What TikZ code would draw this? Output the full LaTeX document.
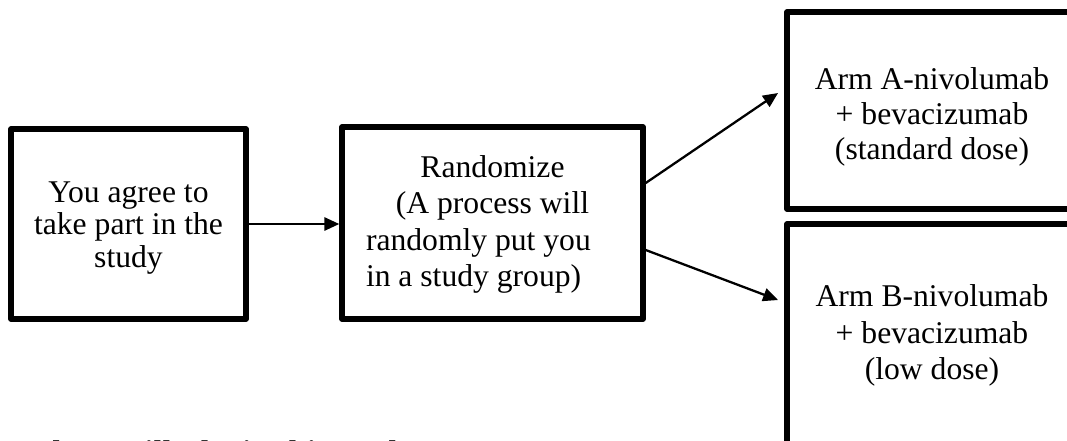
\documentclass[tikz,border=0pt]{standalone}
\usepackage{fontspec}
\setmainfont{Liberation Serif}
\usetikzlibrary{arrows.meta}
\tikzset{
  boxnode/.style={draw=black, line width=3.1pt, line join=round, rectangle, inner sep=0pt},
  boxtext/.style={align=center, inner sep=0pt},
  flowarrow/.style={draw=black, line width=1.3pt, -{Triangle[length=8.5pt, width=7.5pt]}},
}
\begin{document}
\begin{tikzpicture}[x=0.02cm, y=-0.02cm]
\useasboundingbox (0,0) rectangle (1067,440);
\clip (0,0) rectangle (1067,440);
% boxes
\node[boxnode, minimum width=4.70cm, minimum height=3.80cm] (b1) at (128.5,224) {};
\node[boxnode, minimum width=6.02cm, minimum height=3.84cm] (b2) at (492.5,223) {};
\node[boxnode, minimum width=5.80cm, minimum height=3.94cm] (b3) at (932,110.5) {};
\node[boxnode, minimum width=5.80cm, minimum height=4.48cm] (b4) at (932,336) {};
% texts
\node[boxtext, font=\fontsize{18pt}{18.7pt}\selectfont] (t1) at (128.5,228)
  {You agree to\\take part in the\\study};
\node[boxtext, font=\fontsize{18pt}{20.8pt}\selectfont] (t2) at (492.5,224.5)
  {Randomize\\ (A process will\\\makebox[144pt][l]{randomly put you}\\\makebox[144pt][l]{in a study group)}};
\node[boxtext, font=\fontsize{18pt}{19.8pt}\selectfont] (t3) at (932,117)
  {Arm A-nivolumab\\+ bevacizumab\\(standard dose)};
\node[boxtext, font=\fontsize{18pt}{20.7pt}\selectfont] (t4) at (932,335.5)
  {Arm B-nivolumab\\+ bevacizumab\\(low dose)};
\node[anchor=base west, inner sep=0pt, font=\fontsize{18.7pt}{20pt}\selectfont\bfseries] (q) at (-22,463)
  {How long will I be in this study?};
% arrows
\draw[flowarrow] (b1.east) -- (b1.east -| b2.west);
\draw[flowarrow] ([yshift=0.8cm]b2.east) -- ([xshift=-0.125cm, yshift=0.35cm]b3.west);
\draw[flowarrow] ([yshift=-0.54cm]b2.east) -- ([xshift=-0.125cm, yshift=0.72cm]b4.west);
\end{tikzpicture}
\end{document}
